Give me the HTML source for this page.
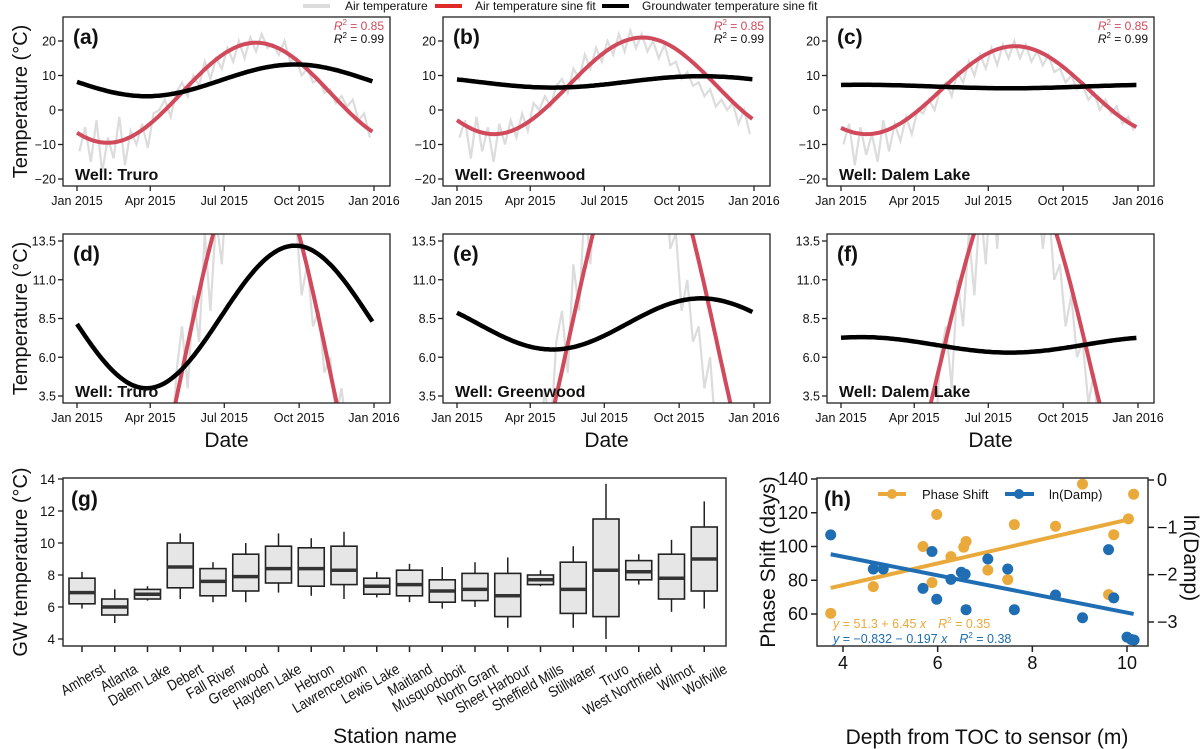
<!DOCTYPE html>
<html><head><meta charset="utf-8"><style>
body{margin:0;background:#fff}
svg{display:block;font-family:"Liberation Sans",Arial,sans-serif}
</style></head><body>
<svg id="fig" width="1200" height="749" viewBox="0 0 1200 749" xmlns="http://www.w3.org/2000/svg"></svg>
<script>
// ---------- data ----------
const wells = ["Truro","Greenwood","Dalem Lake"];
const airMean = [5, 7, 5.75];
const airAmp = [14.5, 14, 12.75];
const airPeak = [220, 228, 214];
const gwMean = [8.6, 8.15, 6.8];
const gwAmp = [4.6, 1.65, 0.5];
const gwPeak = [268, 300, 25];
const r2Air = ["0.85","0.85","0.85"];
const r2Gw = ["0.99","0.99","0.99"];
const airTruro = [-12,-5,-15,-3,-18,-8,-14,-2,-16,-6,-10,-4,-11,-1,0,3,-2,5,8,4,10,7,14,9,15,12,18,14,20,15,21,17,22,18,19,16,20,14,15,10,12,8,9,5,6,2,4,1,3,-3,-1,-8];
const airGreenwood = [-8,-3,-14,-2,-12,-5,-15,-4,-10,-3,-8,-1,-6,2,0,4,1,7,9,5,12,9,16,12,18,14,20,16,22,17,23,18,22,17,20,15,19,13,14,9,11,7,8,4,6,1,3,0,2,-4,0,-7];
const airDalem = [-10,-4,-16,-5,-13,-7,-15,-3,-12,-4,-9,-2,-7,0,-1,3,0,6,8,4,11,8,14,10,16,12,18,13,19,15,20,15,19,14,17,13,16,11,12,8,10,6,7,3,5,0,3,-1,1,-4,-2,-6];
const airSeries = [airTruro, airGreenwood, airDalem];
const dateTicks = [0, 90, 181, 273, 365];
const dateLabels = ["Jan 2015","Apr 2015","Jul 2015","Oct 2015","Jan 2016"];
const row1Ticks = [-20,-10,0,10,20];
const row2Ticks = [3.5,6.0,8.5,11.0,13.5];
// panel g
const stations = ["Amherst","Atlanta","Dalem Lake","Debert","Fall River","Greenwood","Hayden Lake","Hebron","Lawrencetown","Lewis Lake","Maitland","Musquodoboit","North Grant","Sheet Harbour","Sheffield Mills","Stillwater","Truro","West Northfield","Wilmot","Wolfville"];
const wLow = [5.9,5.0,6.4,6.5,6.3,6.3,6.9,6.7,6.5,6.6,6.3,5.9,6.0,4.7,7.3,4.7,4.0,7.4,5.7,5.9];
const q1 = [6.2,5.5,6.5,7.2,6.7,7.0,7.5,7.3,7.4,6.8,6.7,6.3,6.4,5.4,7.4,5.6,5.4,7.7,6.5,7.0];
const med = [6.9,6.0,6.8,8.5,7.6,7.9,8.4,8.4,8.3,7.3,7.4,7.0,7.1,6.7,7.7,7.1,8.3,8.2,7.8,9.0];
const q3 = [7.8,6.5,7.1,10.0,8.4,9.3,9.8,9.7,9.8,7.8,8.3,7.7,8.1,8.1,8.0,8.8,11.5,8.9,9.3,11.0];
const wHigh = [8.2,7.1,7.3,10.6,8.8,10.0,10.6,10.3,10.7,8.2,8.7,8.5,8.8,9.1,8.3,9.8,13.7,9.3,10.2,12.6];
const gTicks = [4,6,8,10,12,14];
// panel h
const depthPhase = [3.74,4.64,5.69,5.88,5.98,6.28,6.55,6.6,7.06,7.48,7.62,8.49,9.06,9.61,9.72,10.03,10.14];
const phase = [60.4,76.2,100,78.6,119,94,99.6,103,86,80.4,113,112,137,71.5,107,116.4,131];
const depthDamp = [3.74,4.64,4.85,5.69,5.88,5.98,6.28,6.5,6.58,6.6,7.06,7.48,7.62,8.49,9.06,9.61,9.72,10.0,10.09,10.15];
const lnDamp = [-1.16,-1.88,-1.88,-2.29,-1.51,-2.52,-2.10,-1.95,-1.99,-2.74,-1.67,-1.88,-2.74,-2.43,-2.91,-1.47,-2.49,-3.32,-3.37,-3.38];
const phaseFit = [51.3, 6.45];
const dampFit = [-0.832, -0.197];
const hxTicks = [4,6,8,10];
const hyTicks = [60,80,100,120,140];
const hy2Ticks = [0,-1,-2,-3];

// ---------- helpers ----------
const svg = document.getElementById('fig');
const NS = "http://www.w3.org/2000/svg";
function mk(tag, attrs, parent, text){
  const e = document.createElementNS(NS, tag);
  for (const k in attrs) e.setAttribute(k, attrs[k]);
  if (text !== undefined) e.textContent = text;
  (parent || svg).appendChild(e);
  return e;
}
const RED = "#d04a5c", GRAY = "#dcdcdc", ORANGE = "#eaa93b", BLUE = "#1f6db2";
const colLeft = [63, 443, 827], boxW = 327;
const rows = [{top:17,bot:186,vTop:20,vBot:-20,yTop:41,yBot:179,ticks:row1Ticks,fmt:v=>v<0?"\u2212"+(-v):String(v)},
              {top:234,bot:403,vTop:13.5,vBot:3.5,yTop:241,yBot:396,ticks:row2Ticks,fmt:v=>v.toFixed(1)}];
const labels = [["(a)","(b)","(c)"],["(d)","(e)","(f)"]];

// legend
const lg = mk('g',{});  
[[303,GRAY,"Air temperature",345,'legend-air-temperature'],[435,"#e02a2a","Air temperature sine fit",475,'legend-air-sine-fit'],[602,"#000","Groundwater temperature sine fit",642,'legend-groundwater-sine-fit']].forEach(it=>{
  const g = mk('g',{},lg);  
  mk('line',{x1:it[0],x2:it[0]+27,y1:6,y2:6,stroke:it[1],'stroke-width':4},g);
  mk('text',{x:it[3],y:10,'font-size':12,fill:'#111'},g,it[2]);
});

rows.forEach((R, ri)=>{
  const ys = v => R.yTop + (R.vTop - v)/(R.vTop - R.vBot)*(R.yBot - R.yTop);
  for (let c=0;c<3;c++){
    const L = colLeft[c], t0 = L+14, t1 = L+311;
    const xs = d => t0 + d/365*(t1-t0);
    const pg = mk('g',{});  
    const cid = 'clip'+ri+c;
    const cp = mk('clipPath',{id:cid},pg); mk('rect',{x:L,y:R.top,width:boxW,height:R.bot-R.top},cp);
    const plot = mk('g',{'clip-path':'url(#'+cid+')'},pg);
    const arr = airSeries[c];
    let pts = arr.map((v,i)=>xs(i*7+3).toFixed(1)+","+ys(v).toFixed(1)).join(" ");
    const air = mk('polyline',{points:pts,fill:'none',stroke:GRAY,'stroke-width':2.2},plot);
     
    function sine(m,a,p){ let s=[]; for(let d=0; d<=365; d+=3){ s.push(xs(d).toFixed(1)+","+ys(m + a*Math.cos(2*Math.PI*(d-p)/365)).toFixed(1)); } return s.join(" "); }
    const af = mk('polyline',{points:sine(airMean[c],airAmp[c],airPeak[c]),fill:'none',stroke:RED,'stroke-width':4},plot);
     
    const gf = mk('polyline',{points:sine(gwMean[c],gwAmp[c],gwPeak[c]),fill:'none',stroke:'#000','stroke-width':4.5},plot);
     
    const fr = mk('rect',{x:L,y:R.top,width:boxW,height:R.bot-R.top,fill:'none',stroke:'#222','stroke-width':1.3},pg);
     
    dateTicks.forEach((d,i)=>{
      mk('line',{x1:xs(d),x2:xs(d),y1:R.bot,y2:R.bot+5,stroke:'#222','stroke-width':1.3},pg);
      const tl = mk('text',{x:xs(d),y:R.bot+19,'font-size':12.5,'text-anchor':'middle',fill:'#111'},pg,dateLabels[i]);
       
    });
    R.ticks.forEach(v=>{
      mk('line',{x1:L-5,x2:L,y1:ys(v),y2:ys(v),stroke:'#222','stroke-width':1.3},pg);
      const tl = mk('text',{x:L-7,y:ys(v)+4.5,'font-size':12.5,'text-anchor':'end',fill:'#111'},pg,R.fmt(v));
       
    });
    const pl = mk('text',{x:L+10,y:R.top+27,'font-size':21,'font-weight':'bold',fill:'#111'},pg,labels[ri][c]);
     
    const wl = mk('text',{x:L+12,y:R.bot-6,'font-size':16,'font-weight':'bold',fill:'#111'},pg,"Well: "+wells[c]);
     
    if (ri===0){
      const r1 = mk('text',{x:L+boxW-6,y:R.top+13,'font-size':12,'text-anchor':'end',fill:RED},pg);
       
      r1.innerHTML = '<tspan font-style="italic">R</tspan><tspan font-size="8" dy="-5">2</tspan><tspan dy="5"> = '+r2Air[c]+'</tspan>';
      const r2 = mk('text',{x:L+boxW-6,y:R.top+26,'font-size':12,'text-anchor':'end',fill:'#111'},pg);
       
      r2.innerHTML = '<tspan font-style="italic">R</tspan><tspan font-size="8" dy="-5">2</tspan><tspan dy="5"> = '+r2Gw[c]+'</tspan>';
    } else {
      const dl = mk('text',{x:L+boxW/2,y:447,'font-size':21,'text-anchor':'middle',fill:'#111'},pg,"Date");
       
    }
  }
  const yt = mk('text',{x:0,y:0,'font-size':20,'text-anchor':'middle',fill:'#111',transform:'translate(27,'+((R.top+R.bot)/2)+') rotate(-90)'},null,"Temperature (°C)");
   
});

// ---------- panel g ----------
(function(){
  const L=63,Rr=726,T=478,B=646;
  const ys = v => 479 + (14 - v)/10*160;
  const xs = i => 82 + i*32.75;
  const g = mk('g',{});  
  stations.forEach((s,i)=>{
    const x = xs(i), w = 13;
    const bg = mk('g',{},g);  
    mk('line',{x1:x,x2:x,y1:ys(wHigh[i]),y2:ys(q3[i]),stroke:'#222','stroke-width':1.5},bg);
    mk('line',{x1:x,x2:x,y1:ys(q1[i]),y2:ys(wLow[i]),stroke:'#222','stroke-width':1.5},bg);
    mk('rect',{x:x-w,y:ys(q3[i]),width:2*w,height:ys(q1[i])-ys(q3[i]),fill:'#e6e6e6',stroke:'#222','stroke-width':1.6},bg);
    mk('line',{x1:x-w,x2:x+w,y1:ys(med[i]),y2:ys(med[i]),stroke:'#333','stroke-width':3.5},bg);
    mk('line',{x1:x,x2:x,y1:B,y2:B+6,stroke:'#222','stroke-width':1.5},g);
    const tl = mk('text',{x:0,y:0,'font-size':15,'text-anchor':'end',fill:'#111',transform:'translate('+(x+24)+',672) rotate(-30) scale(0.86,1)'},g,s);
     
  });
  const fr = mk('rect',{x:L,y:T,width:Rr-L,height:B-T,fill:'none',stroke:'#333','stroke-width':1.5},g);
   
  gTicks.forEach(v=>{
    mk('line',{x1:L-5,x2:L,y1:ys(v),y2:ys(v),stroke:'#222','stroke-width':1.3},g);
    const tl = mk('text',{x:L-8,y:ys(v)+5,'font-size':13.5,'text-anchor':'end',fill:'#111'},g,String(v));
     
  });
  const pl = mk('text',{x:L+8,y:T+28,'font-size':21,'font-weight':'bold',fill:'#111'},g,"(g)");
   
  const xt = mk('text',{x:395,y:743,'font-size':21,'text-anchor':'middle',fill:'#111'},g,"Station name");
   
  const yt = mk('text',{x:0,y:0,'font-size':20,'text-anchor':'middle',fill:'#111',transform:'translate(27,562) rotate(-90)'},g,"GW temperature (°C)");
   
})();

// ---------- panel h ----------
(function(){
  const L=817,Rr=1148,T=478,B=646;
  const xs = v => 843 + (v-4)/6*(1127-843);
  const ys = v => 479 + (140 - v)/80*(614-479);
  const ys2 = v => 480 + (0 - v)/3*(622-480);
  const g = mk('g',{});  
  const cp = mk('clipPath',{id:'cliph'},g); mk('rect',{x:L,y:T,width:Rr-L,height:B-T},cp);
  const plot = mk('g',{'clip-path':'url(#cliph)'},g);
  const x0 = Math.min(...depthPhase), x1 = Math.max(...depthPhase);
  const lo = mk('line',{x1:xs(x0),x2:xs(x1),y1:ys(phaseFit[0]+phaseFit[1]*x0),y2:ys(phaseFit[0]+phaseFit[1]*x1),stroke:ORANGE,'stroke-width':4},plot);
   
  const lb = mk('line',{x1:xs(x0),x2:xs(x1),y1:ys2(dampFit[0]+dampFit[1]*x0),y2:ys2(dampFit[0]+dampFit[1]*x1),stroke:BLUE,'stroke-width':4},plot);
   
  depthPhase.forEach((d,i)=>{
    const c = mk('circle',{cx:xs(d),cy:ys(phase[i]),r:5.5,fill:ORANGE},g);
     
  });
  depthDamp.forEach((d,i)=>{
    const c = mk('circle',{cx:xs(d),cy:ys2(lnDamp[i]),r:5.5,fill:BLUE},g);
     
  });
  const fr = mk('rect',{x:L,y:T,width:Rr-L,height:B-T,fill:'none',stroke:'#333','stroke-width':1.5},g);
   
  hxTicks.forEach(v=>{
    mk('line',{x1:xs(v),x2:xs(v),y1:B,y2:B+6,stroke:'#222','stroke-width':1.5},g);
    const tl = mk('text',{x:xs(v),y:B+23,'font-size':18,'text-anchor':'middle',fill:'#111'},g,String(v));
     
  });
  hyTicks.forEach(v=>{
    mk('line',{x1:L-6,x2:L,y1:ys(v),y2:ys(v),stroke:'#222','stroke-width':1.5},g);
    const tl = mk('text',{x:L-9,y:ys(v)+6,'font-size':18,'text-anchor':'end',fill:'#111'},g,String(v));
     
  });
  hy2Ticks.forEach(v=>{
    mk('line',{x1:Rr,x2:Rr+6,y1:ys2(v),y2:ys2(v),stroke:'#222','stroke-width':1.5},g);
    const tl = mk('text',{x:Rr+9,y:ys2(v)+6,'font-size':18,fill:'#111'},g,v<0?"\u2212"+(-v):String(v));
     
  });
  const pl = mk('text',{x:L+7,y:T+28,'font-size':21,'font-weight':'bold',fill:'#111'},g,"(h)");
   
  const lg1 = mk('g',{},g);  
  mk('line',{x1:878,x2:906,y1:494,y2:494,stroke:ORANGE,'stroke-width':4},lg1);
  mk('circle',{cx:892,cy:494,r:5,fill:ORANGE},lg1);
  mk('text',{x:922,y:499,'font-size':13,fill:'#111'},lg1,"Phase Shift");
  const lg2 = mk('g',{},g);  
  mk('line',{x1:1005,x2:1034,y1:494,y2:494,stroke:BLUE,'stroke-width':4},lg2);
  mk('circle',{cx:1019,cy:494,r:5,fill:BLUE},lg2);
  mk('text',{x:1049,y:499,'font-size':13,fill:'#111'},lg2,"ln(Damp)");
  const e1 = mk('text',{x:833,y:628,'font-size':12.5,fill:ORANGE,'xml:space':'preserve'},g);
   
  e1.innerHTML = '<tspan font-style="italic">y</tspan> = 51.3 + 6.45 <tspan font-style="italic">x</tspan><tspan dx="12" font-style="italic">R</tspan><tspan font-size="8" dy="-5">2</tspan><tspan dy="5"> = 0.35</tspan>';
  const e2 = mk('text',{x:833,y:643,'font-size':12.5,fill:BLUE},g);
   
  e2.innerHTML = '<tspan font-style="italic">y</tspan> = \u22120.832 \u2212 0.197 <tspan font-style="italic">x</tspan><tspan dx="12" font-style="italic">R</tspan><tspan font-size="8" dy="-5">2</tspan><tspan dy="5"> = 0.38</tspan>';
  const xt = mk('text',{x:987,y:744,'font-size':21,'text-anchor':'middle',fill:'#111'},g,"Depth from TOC to sensor (m)");
   
  const yt = mk('text',{x:0,y:0,'font-size':21,'text-anchor':'middle',fill:'#111',transform:'translate(775,562) rotate(-90)'},g,"Phase Shift (days)");
   
  const yt2 = mk('text',{x:0,y:0,'font-size':21,'text-anchor':'middle',fill:'#111',transform:'translate(1184,558) rotate(90)'},g,"ln(Damp)");
   
})();
</script>
</body></html>
